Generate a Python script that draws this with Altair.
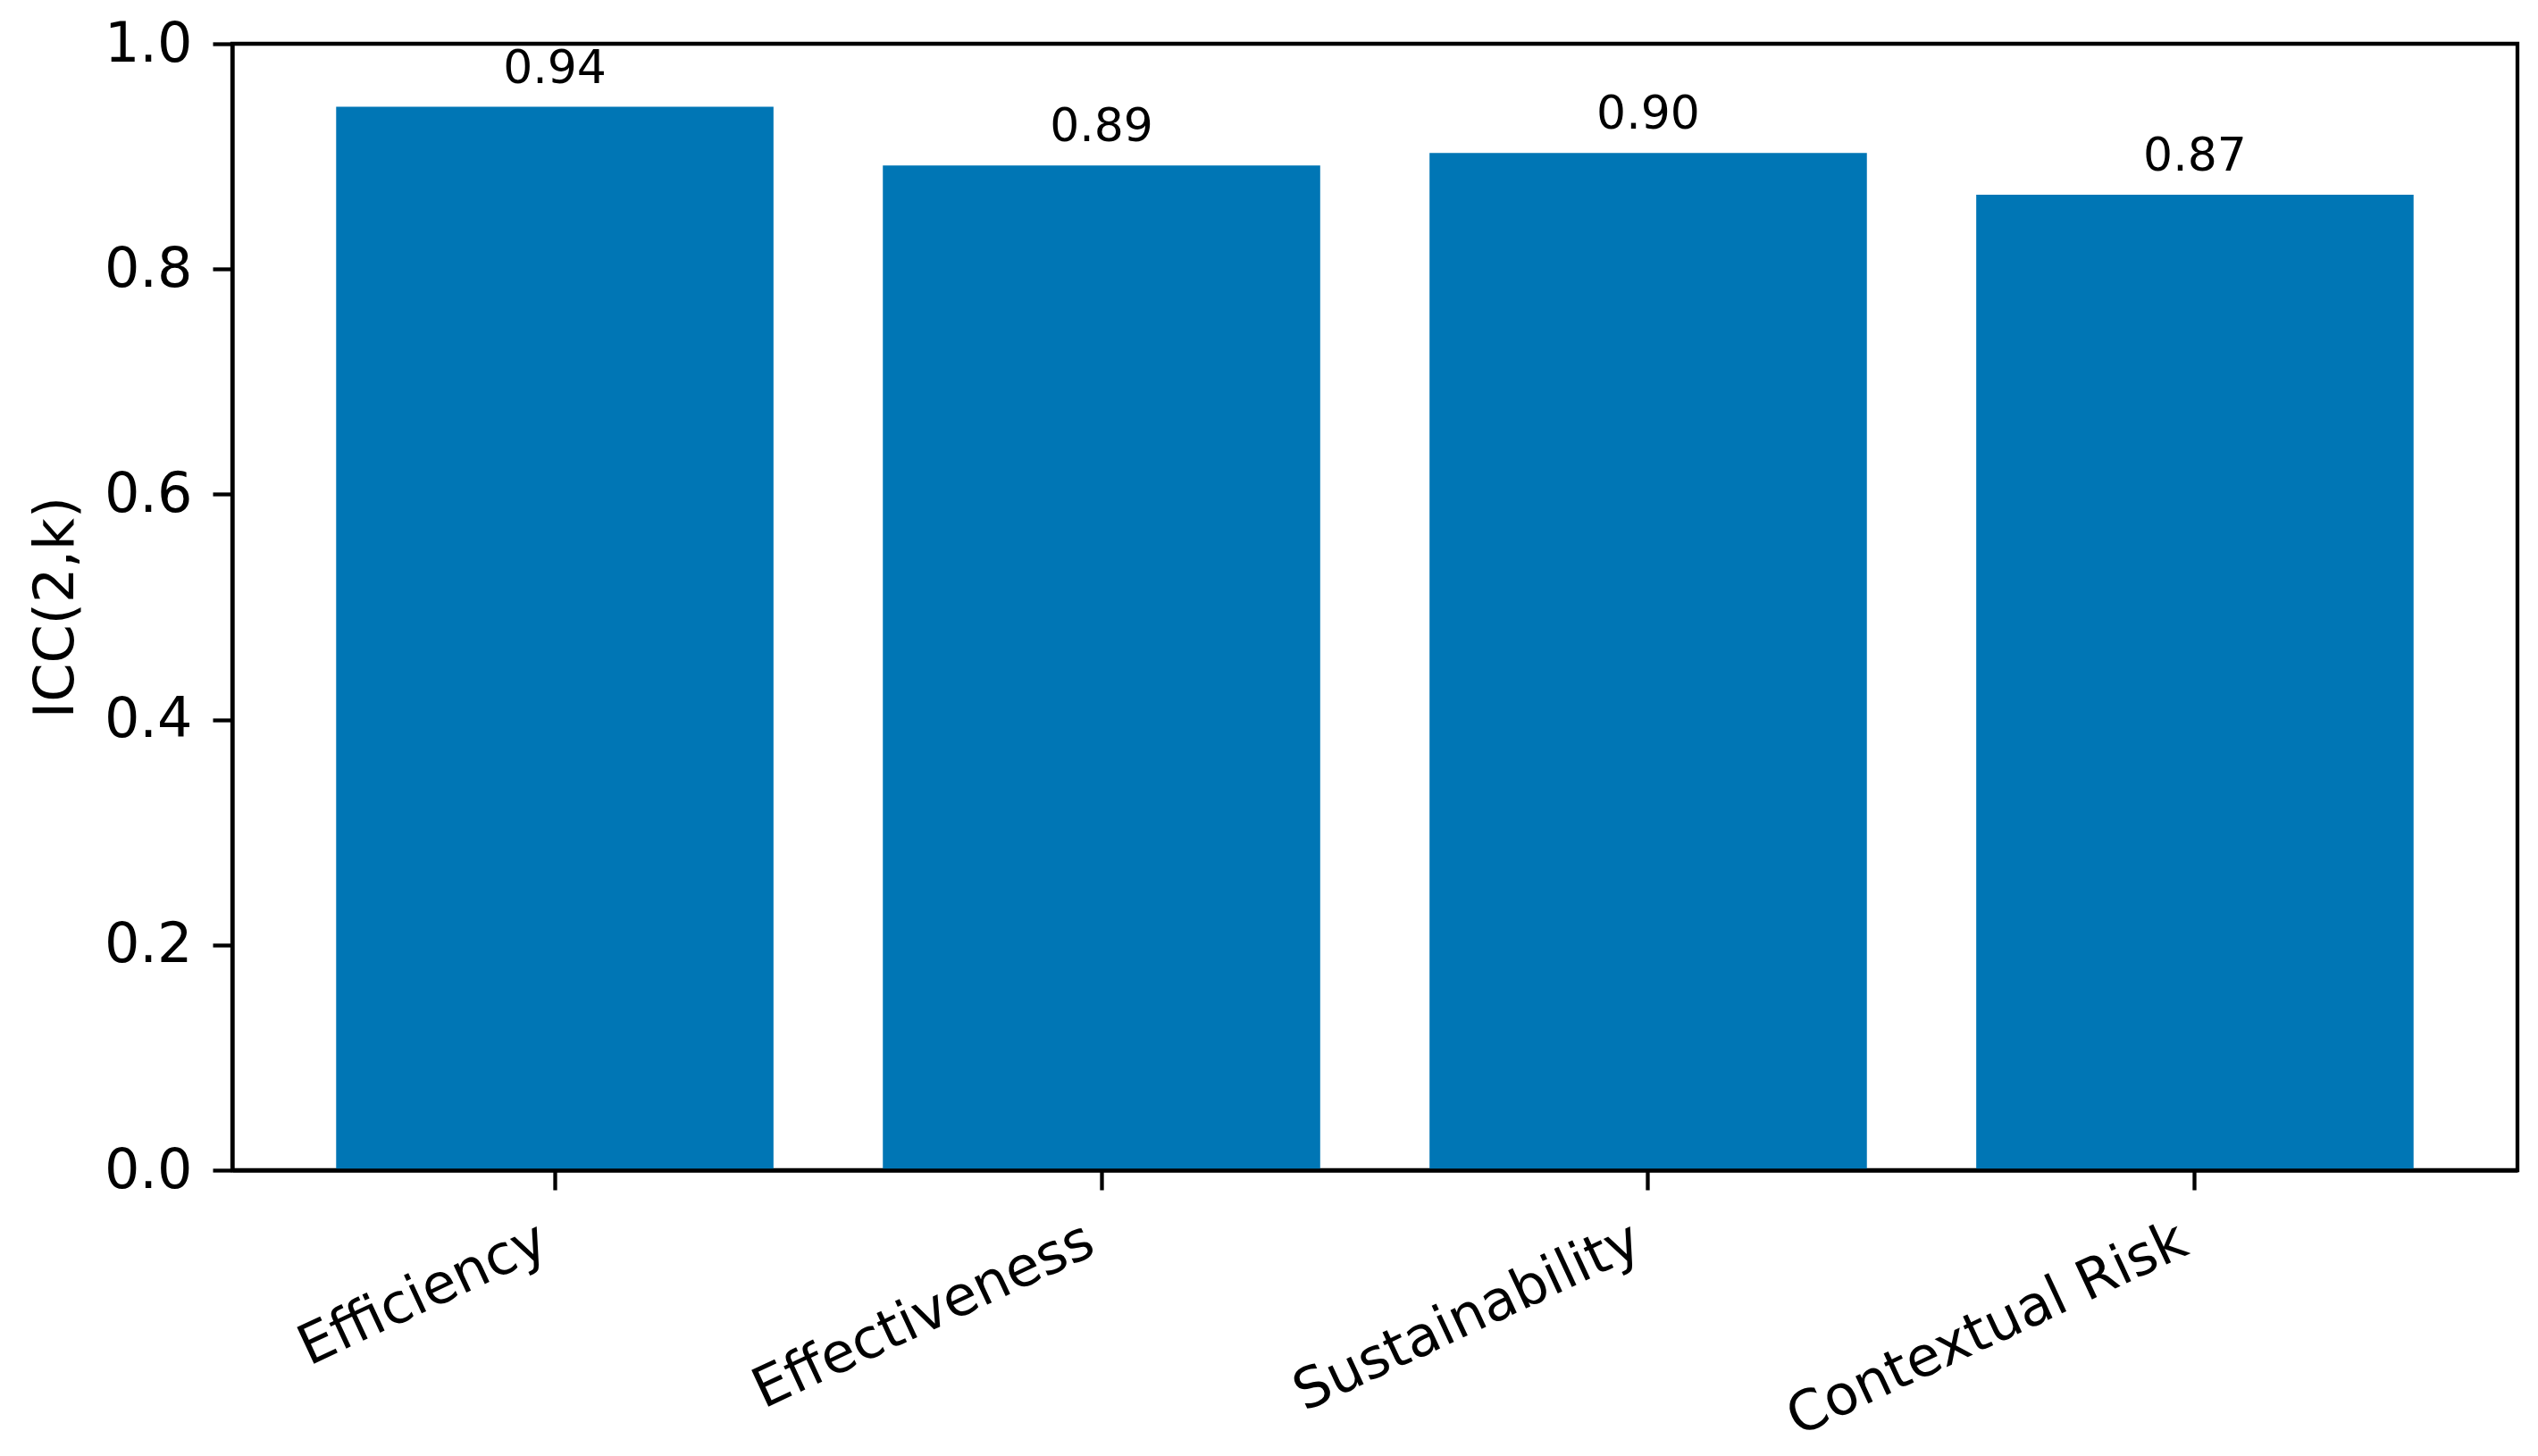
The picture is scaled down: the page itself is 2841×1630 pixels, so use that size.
import altair as alt
import pandas as pd

categories = ["Efficiency", "Effectiveness", "Sustainability", "Contextual Risk"]
icc_values = [0.944, 0.892, 0.903, 0.866]
y_ticks = [0.0, 0.2, 0.4, 0.6, 0.8, 1.0]

df = pd.DataFrame({"category": categories, "icc": icc_values})

FONT = "DejaVu Sans"
LW = 4.3
BAR_COLOR = "#0076b5"
TICK_FS = 62

x_enc = alt.X(
    "category:N",
    sort=categories,
    scale=alt.Scale(paddingInner=0.2, paddingOuter=0.19),
    axis=alt.Axis(
        title=None,
        labelAngle=-25,
        labelAlign="right",
        labelBaseline="top",
        labelFont=FONT,
        labelFontSize=TICK_FS,
        labelColor="black",
        labelPadding=26,
        labelOffset=-25,
        labelLimit=2000,
        labelOverlap=False,
        tickSize=22,
        tickWidth=LW,
        tickColor="black",
        domainColor="black",
        domainWidth=LW,
        zindex=1,
    ),
)

y_enc = alt.Y(
    "icc:Q",
    scale=alt.Scale(domain=[0, 1], nice=False, zero=True),
    axis=alt.Axis(
        title="ICC(2,k)",
        titleFont=FONT,
        titleFontSize=TICK_FS,
        titleFontWeight="normal",
        titleColor="black",
        titlePadding=22,
        values=y_ticks,
        format=".1f",
        labelFont=FONT,
        labelFontSize=TICK_FS,
        labelColor="black",
        labelPadding=23,
        tickSize=22,
        tickWidth=LW,
        tickColor="black",
        domainColor="black",
        domainWidth=LW,
        grid=False,
        zindex=1,
    ),
)

base = alt.Chart(df).encode(x=x_enc)

bars = base.mark_bar(color=BAR_COLOR).encode(y=y_enc)

labels = base.mark_text(
    font=FONT, fontSize=52, color="black", baseline="alphabetic", dy=-27
).encode(
    y=alt.Y("icc:Q"),
    text=alt.Text("icc:Q", format=".2f"),
)

chart = (
    alt.layer(bars, labels)
    .properties(
        width=2558,
        height=1261,
        autosize=alt.AutoSizeParams(type="none"),
        padding={"left": 252, "top": 41, "right": 12, "bottom": 300},
        background="white",
    )
    .configure_view(stroke="black", strokeWidth=LW)
)

chart.save("out.html", embed_options={"renderer": "svg", "actions": False})
